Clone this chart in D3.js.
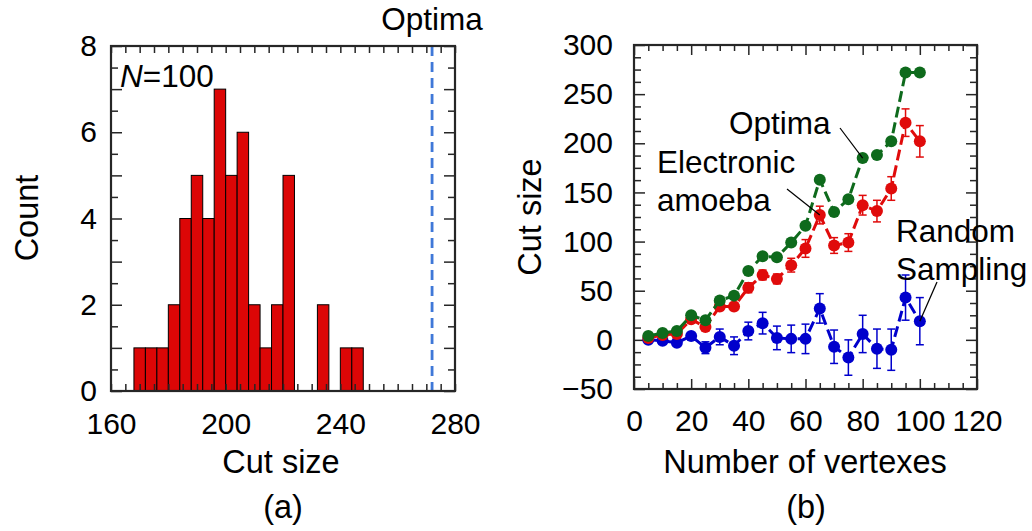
<!DOCTYPE html>
<html>
    <head>
        <meta charset="UTF-8" />
        <title>Cut size histogram and scaling</title>
        <style>
            body { margin: 0; background: #fff; }
            text { font-family: "Liberation Sans", Arial, sans-serif; fill: #000; }
        </style>
    </head>
    <body>
        <script src="https://d3js.org/d3.v7.min.js"></script>
        <script type="text/javascript">
            // (a) histogram of cut sizes, bins of width 4
            var binStarts = [168, 172, 176, 180, 184, 188, 192, 196, 200, 204, 208, 212, 216, 220, 224, 228, 232, 236, 240, 244];
            var binCounts = [1, 1, 1, 2, 4, 5, 4, 7, 5, 6, 2, 1, 2, 5, 0, 0, 2, 0, 1, 1];
            var binWidth = 4;
            var optimaCut = 272;
            var histXTicks = [160, 200, 240, 280];
            var histYTicks = [0, 2, 4, 6, 8];

            // (b) cut size vs number of vertexes
            var vertexes = [5, 10, 15, 20, 25, 30, 35, 40, 45, 50, 55, 60, 65, 70, 75, 80, 85, 90, 95, 100];
            var optima = [4, 7, 9, 25, 20, 40, 45, 70, 85, 84, 99, 116, 163, 130, 143, 185, 188, 202, 272, 272];
            var amoeba = [2, 5, 6, 21, 13, 34, 34, 53, 66, 62, 76, 93, 127, 96, 99, 137, 131, 154, 221, 202];
            var amoebaErr = [2, 2, 3, 3, 3, 4, 4, 5, 5, 5, 7, 9, 9, 8, 9, 10, 11, 12, 14, 16];
            var randomS = [0, -1, -3, 4, -8, 3, -6, 9, 17, 2, 1, 1, 32, -7, -18, 6, -9, -10, 43, 19];
            var randomErr = [2, 3, 1, 1, 6, 8, 9, 9, 11, 12, 14, 15, 15, 17, 18, 19, 20, 21, 23, 24];
            var lineXTicks = [0, 20, 40, 60, 80, 100, 120];
            var lineYTicks = [-50, 0, 50, 100, 150, 200, 250, 300];

            var svg = d3
                .select("body")
                .append("svg")
                .attr("width", 1032)
                .attr("height", 531);

            var FS = 30;      // tick labels
            var FL = 32.5;    // axis titles
            var FA = 31.5;    // annotations
            var frameColor = "#262626";

            function styleAxis(g) {
                g.select(".domain").remove();
                g.selectAll(".tick line").attr("stroke", frameColor).attr("stroke-width", 1.5);
                g.selectAll("text").attr("font-size", FS).attr("font-family", null);
            }

            // ---------- (a) ----------
            var hx = d3.scaleLinear().domain([160, 280]).range([111, 455]);
            var hy = d3.scaleLinear().domain([0, 8]).range([391, 46]);

            svg.append("g")
                .selectAll("rect")
                .data(binStarts)
                .join("rect")
                .attr("x", function(d) { return hx(d); })
                .attr("width", function(d) { return hx(d + binWidth) - hx(d); })
                .attr("y", function(d, i) { return hy(binCounts[i]); })
                .attr("height", function(d, i) { return hy(0) - hy(binCounts[i]); })
                .attr("fill", function(d, i) { return binCounts[i] ? "#dc0606" : "none"; })
                .attr("stroke", function(d, i) { return binCounts[i] ? "#000" : "none"; })
                .attr("stroke-width", 1);

            svg.append("line")
                .attr("x1", hx(optimaCut))
                .attr("x2", hx(optimaCut))
                .attr("y1", hy(8))
                .attr("y2", hy(0))
                .attr("stroke", "#3f78d8")
                .attr("stroke-width", 2.8)
                .attr("stroke-dasharray", "10,6");

            var histMinorX = d3.range(160, 281, 5);
            var histMinorY = d3.range(0, 8.01, 0.5);

            svg.append("g").attr("transform", "translate(0,391)")
                .call(d3.axisBottom(hx).tickValues(histMinorX).tickSize(-7).tickFormat(""))
                .call(styleAxis);
            svg.append("g").attr("transform", "translate(0,46)")
                .call(d3.axisTop(hx).tickValues(histMinorX).tickSize(-7).tickFormat(""))
                .call(styleAxis);
            svg.append("g").attr("transform", "translate(0,391)")
                .call(d3.axisBottom(hx).tickValues(histXTicks).tickSize(0).tickPadding(22))
                .call(styleAxis);

            svg.append("g").attr("transform", "translate(111,0)")
                .call(d3.axisLeft(hy).tickValues(histMinorY).tickSizeInner(-7).tickFormat(""))
                .call(styleAxis)
                .selectAll(".tick line")
                .attr("x2", function(d) { return d % 1 === 0 ? 11 : 7; });
            svg.append("g").attr("transform", "translate(455,0)")
                .call(d3.axisRight(hy).tickValues(histMinorY).tickSizeInner(-7).tickFormat(""))
                .call(styleAxis)
                .selectAll(".tick line")
                .attr("x2", function(d) { return d % 1 === 0 ? -11 : -7; });
            svg.append("g").attr("transform", "translate(111,0)")
                .call(d3.axisLeft(hy).tickValues(histYTicks).tickSize(0).tickPadding(14))
                .call(styleAxis);

            svg.append("rect")
                .attr("x", 111).attr("y", 46)
                .attr("width", 344).attr("height", 345)
                .attr("fill", "none")
                .attr("stroke", frameColor)
                .attr("stroke-width", 2.2);

            var nLabel = svg.append("text").attr("x", 120).attr("y", 87).attr("font-size", FA);
            nLabel.append("tspan").attr("font-style", "italic").text("N");
            nLabel.append("tspan").text("=100");

            svg.append("text")
                .attr("x", hx(optimaCut)).attr("y", 30)
                .attr("text-anchor", "middle").attr("font-size", FA)
                .text("Optima");

            svg.append("text")
                .attr("transform", "translate(38,218) rotate(-90)")
                .attr("text-anchor", "middle").attr("font-size", FL)
                .text("Count");
            svg.append("text")
                .attr("x", 281).attr("y", 473)
                .attr("text-anchor", "middle").attr("font-size", FL)
                .text("Cut size");
            svg.append("text")
                .attr("x", 283).attr("y", 518)
                .attr("text-anchor", "middle").attr("font-size", FL)
                .text("(a)");

            // ---------- (b) ----------
            var lx = d3.scaleLinear().domain([0, 120]).range([634, 977]);
            var ly = d3.scaleLinear().domain([-50, 300]).range([389, 45]);

            var lineMinorX = d3.range(0, 121, 5);
            var lineMinorY = d3.range(-50, 300.1, 12.5);

            svg.append("g").attr("transform", "translate(0,389)")
                .call(d3.axisBottom(lx).tickValues(lineMinorX).tickSize(-6).tickFormat(""))
                .call(styleAxis)
                .selectAll(".tick line")
                .attr("y2", function(d) { return d % 20 === 0 ? -10 : -6; });
            svg.append("g").attr("transform", "translate(0,45)")
                .call(d3.axisTop(lx).tickValues(lineMinorX).tickSize(-6).tickFormat(""))
                .call(styleAxis)
                .selectAll(".tick line")
                .attr("y2", function(d) { return d % 20 === 0 ? 10 : 6; });
            svg.append("g").attr("transform", "translate(0,389)")
                .call(d3.axisBottom(lx).tickValues(lineXTicks).tickSize(0).tickPadding(21))
                .call(styleAxis);

            svg.append("g").attr("transform", "translate(634,0)")
                .call(d3.axisLeft(ly).tickValues(lineMinorY).tickSizeInner(-7).tickFormat(""))
                .call(styleAxis)
                .selectAll(".tick line")
                .attr("x2", function(d) { return d % 50 === 0 ? 11 : 7; });
            svg.append("g").attr("transform", "translate(977,0)")
                .call(d3.axisRight(ly).tickValues(lineMinorY).tickSizeInner(-7).tickFormat(""))
                .call(styleAxis)
                .selectAll(".tick line")
                .attr("x2", function(d) { return d % 50 === 0 ? -11 : -7; });
            svg.append("g").attr("transform", "translate(634,0)")
                .call(d3.axisLeft(ly).tickValues(lineYTicks).tickSize(0).tickPadding(21))
                .call(styleAxis);

            svg.append("rect")
                .attr("x", 634).attr("y", 45)
                .attr("width", 343).attr("height", 344)
                .attr("fill", "none")
                .attr("stroke", frameColor)
                .attr("stroke-width", 2.2);

            var series = [
                { vals: randomS, err: randomErr, color: "#0000cc" },
                { vals: amoeba, err: amoebaErr, color: "#e00b0b" },
                { vals: optima, err: null, color: "#0e6a1c" }
            ];

            var line = d3.line()
                .x(function(d) { return lx(d[0]); })
                .y(function(d) { return ly(d[1]); });

            series.forEach(function(s) {
                var pts = vertexes.map(function(v, i) { return [v, s.vals[i], s.err ? s.err[i] : 0]; });
                var g = svg.append("g");

                g.append("path")
                    .attr("d", line(pts))
                    .attr("fill", "none")
                    .attr("stroke", s.color)
                    .attr("stroke-width", 3)
                    .attr("stroke-dasharray", "11,5");

                if (s.err) {
                    var eb = g.selectAll(".eb")
                        .data(pts)
                        .join("g")
                        .attr("stroke", s.color)
                        .attr("stroke-width", 1.5);
                    eb.append("line")
                        .attr("x1", function(d) { return lx(d[0]); })
                        .attr("x2", function(d) { return lx(d[0]); })
                        .attr("y1", function(d) { return ly(d[1] - d[2]); })
                        .attr("y2", function(d) { return ly(d[1] + d[2]); });
                    eb.append("line")
                        .attr("x1", function(d) { return lx(d[0]) - 4; })
                        .attr("x2", function(d) { return lx(d[0]) + 4; })
                        .attr("y1", function(d) { return ly(d[1] - d[2]); })
                        .attr("y2", function(d) { return ly(d[1] - d[2]); });
                    eb.append("line")
                        .attr("x1", function(d) { return lx(d[0]) - 4; })
                        .attr("x2", function(d) { return lx(d[0]) + 4; })
                        .attr("y1", function(d) { return ly(d[1] + d[2]); })
                        .attr("y2", function(d) { return ly(d[1] + d[2]); });
                }

                g.selectAll("circle")
                    .data(pts)
                    .join("circle")
                    .attr("cx", function(d) { return lx(d[0]); })
                    .attr("cy", function(d) { return ly(d[1]); })
                    .attr("r", 6)
                    .attr("fill", s.color);
            });

            // annotations with leader lines
            function note(lines, x, y, from, toV, toC) {
                var t = svg.append("text").attr("font-size", FA);
                lines.forEach(function(l, i) {
                    t.append("tspan").attr("x", x).attr("y", y + i * 38).text(l);
                });
                svg.append("line")
                    .attr("x1", from[0]).attr("y1", from[1])
                    .attr("x2", lx(toV)).attr("y2", ly(toC))
                    .attr("stroke", "#000").attr("stroke-width", 1.2);
            }
            note(["Optima"], 729, 134, [840, 128], 80, 185);
            note(["Electronic", "amoeba"], 657, 173, [787, 189], 65, 127);
            note(["Random", "Sampling"], 896, 242, [937, 282], 100, 19);

            svg.append("text")
                .attr("transform", "translate(541,217) rotate(-90)")
                .attr("text-anchor", "middle").attr("font-size", FL)
                .text("Cut size");
            svg.append("text")
                .attr("x", 805).attr("y", 473)
                .attr("text-anchor", "middle").attr("font-size", FL)
                .text("Number of vertexes");
            svg.append("text")
                .attr("x", 806).attr("y", 518)
                .attr("text-anchor", "middle").attr("font-size", FL)
                .text("(b)");
        </script>
    </body>
</html>
